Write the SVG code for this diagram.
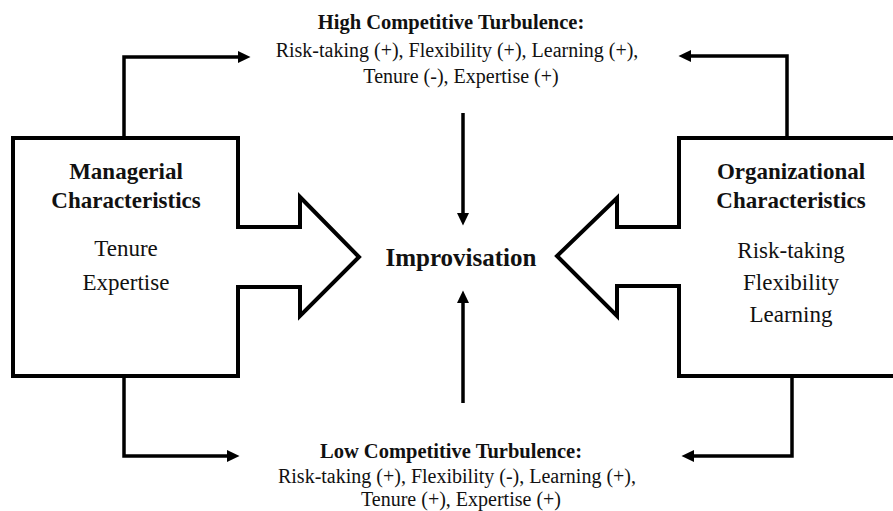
<svg xmlns="http://www.w3.org/2000/svg" width="893" height="511" viewBox="0 0 893 511">
<style>
.shape{fill:#fff;stroke:#000;stroke-width:4;stroke-linejoin:miter}
.conn{fill:none;stroke:#000;stroke-width:3.5;stroke-linejoin:miter}
text{font-family:"Liberation Serif","Times New Roman",serif;fill:#111;text-anchor:middle}
.hd{font-size:20.5px;font-weight:bold}
.ln{font-size:20px}
.bt{font-size:23px;font-weight:bold}
.br{font-size:23px}
.ctr{font-size:25px;font-weight:bold}
</style>
<defs>
<marker id="ah" markerUnits="userSpaceOnUse" markerWidth="13" markerHeight="13" refX="0" refY="6" orient="auto" viewBox="0 0 13 12">
<path d="M0,0 L12.5,6 L0,12 z" fill="#000"/>
</marker>
</defs>
<rect width="893" height="511" fill="#fff"/>
<g id="connectors">
<path class="conn" d="M124 137 V57 H238" marker-end="url(#ah)"/>
<path class="conn" d="M787 137 V56 H691" marker-end="url(#ah)"/>
<path class="conn" d="M124 376 V456 H227" marker-end="url(#ah)"/>
<path class="conn" d="M792 376 V456 H694" marker-end="url(#ah)"/>
<path class="conn" d="M463 113 V213" marker-end="url(#ah)"/>
<path class="conn" d="M463 403 V303" marker-end="url(#ah)"/>
</g>
<g id="managerial">
<path class="shape" d="M13 138 H238 V227 H300 V197 L359 257 L300 316 V287 H238 V376 H13 Z"/>
<text class="bt" x="126" y="179">Managerial</text>
<text class="bt" x="126" y="208">Characteristics</text>
<text class="br" x="126" y="256">Tenure</text>
<text class="br" x="126" y="290">Expertise</text>
</g>
<g id="organizational">
<path class="shape" d="M679 138 H900 V376 H679 V286 H617 V316 L557 256 L617 198 V227 H679 Z"/>
<text class="bt" x="791" y="179">Organizational</text>
<text class="bt" x="791" y="208">Characteristics</text>
<text class="br" x="791" y="258">Risk-taking</text>
<text class="br" x="791" y="290">Flexibility</text>
<text class="br" x="791" y="322">Learning</text>
</g>
<g id="improvisation">
<text class="ctr" x="461" y="266">Improvisation</text>
</g>
<g id="high">
<text class="hd" x="451" y="29">High Competitive Turbulence:</text>
<text class="ln" x="457" y="57">Risk-taking (+), Flexibility (+), Learning (+),</text>
<text class="ln" x="461" y="83">Tenure (-), Expertise (+)</text>
</g>
<g id="low">
<text class="hd" x="451" y="458">Low Competitive Turbulence:</text>
<text class="ln" x="457" y="483">Risk-taking (+), Flexibility (-), Learning (+),</text>
<text class="ln" x="461" y="506">Tenure (+), Expertise (+)</text>
</g>
</svg>
